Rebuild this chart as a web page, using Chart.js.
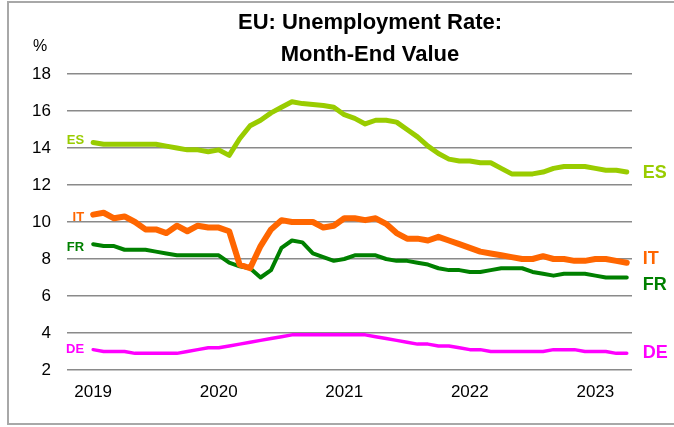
<!DOCTYPE html>
<html>
<head>
<meta charset="utf-8">
<script src="https://cdn.jsdelivr.net/npm/chart.js@4"></script>
<style>
  html,body{margin:0;padding:0;background:#fff;overflow:hidden}
  #wrap{position:relative;width:674px;height:427px}
  #frame{position:absolute;left:7px;top:1px;width:700px;height:424px;border:2px solid #a8a8a8;box-sizing:border-box}
  canvas{position:absolute;left:0;top:0}
</style>
</head>
<body>
<div id="wrap">
  <div id="frame"></div>
  <canvas id="chart" width="674" height="427"></canvas>
</div>
<script>
// monthly unemployment rate, Jan 2019 .. Apr 2023
const yearTicks=['2019','2020','2021','2022','2023']
const countries=['ES','IT','FR','DE']
const es=[14.3,14.2,14.2,14.2,14.2,14.2,14.2,14.1,14.0,13.9,13.9,13.8,13.9,13.6,14.5,15.2,15.5,15.9,
  16.2,16.5,16.4,16.35,16.3,16.2,15.8,15.6,15.3,15.5,15.5,15.4,15.0,14.6,14.1,13.7,13.4,
  13.3,13.3,13.2,13.2,12.9,12.6,12.6,12.6,12.7,12.9,13.0,13.0,13.0,12.9,12.8,12.8,12.7]
const it=[10.4,10.5,10.2,10.3,10.0,9.6,9.6,9.4,9.8,9.5,9.8,9.7,9.7,9.5,7.7,7.5,8.7,9.6,
  10.1,10.0,10.0,10.0,9.7,9.8,10.2,10.2,10.1,10.2,9.9,9.4,9.1,9.1,9.0,9.2,9.0,
  8.8,8.6,8.4,8.3,8.2,8.1,8.0,8.0,8.15,8.0,8.0,7.9,7.9,8.0,8.0,7.9,7.8]
const fr=[8.8,8.7,8.7,8.5,8.5,8.5,8.4,8.3,8.2,8.2,8.2,8.2,8.2,7.8,7.6,7.5,7.0,7.4,
  8.6,9.0,8.9,8.3,8.1,7.9,8.0,8.2,8.2,8.2,8.0,7.9,7.9,7.8,7.7,7.5,7.4,
  7.4,7.3,7.3,7.4,7.5,7.5,7.5,7.3,7.2,7.1,7.2,7.2,7.2,7.1,7.0,7.0,7.0]
const de=[3.1,3.0,3.0,3.0,2.9,2.9,2.9,2.9,2.9,3.0,3.1,3.2,3.2,3.3,3.4,3.5,3.6,3.7,
  3.8,3.9,3.9,3.9,3.9,3.9,3.9,3.9,3.9,3.8,3.7,3.6,3.5,3.4,3.4,3.3,3.3,
  3.2,3.1,3.1,3.0,3.0,3.0,3.0,3.0,3.0,3.1,3.1,3.1,3.0,3.0,3.0,2.9,2.9]

const font="'Liberation Sans', Arial, sans-serif"
const pts=arr=>arr.map((v,i)=>({x:i,y:v}))

// colour, width, draw order, label nudges (left, right)
const styles={
  ES:{color:'#99cc00',width:5,order:2,dyL:-2,dyR:1},
  IT:{color:'#ff6600',width:6,order:1,dyL:3,dyR:-4},
  FR:{color:'#008000',width:4,order:3,dyL:3,dyR:8},
  DE:{color:'#ff00ff',width:3.5,order:4,dyL:0,dyR:0}
}
const series={ES:es,IT:it,FR:fr,DE:de}

const headPlugin={
  id:'head',
  afterDraw(chart){
    const ctx=chart.ctx
    ctx.save()
    ctx.fillStyle='#000'
    ctx.textAlign='center';ctx.textBaseline='middle'
    ctx.font=`bold 22px ${font}`
    ctx.fillText('EU: Unemployment Rate:',370,23)
    ctx.fillText('Month-End Value',370,55)
    ctx.font=`16px ${font}`
    ctx.fillText('%',40,47)
    ctx.restore()
  }
}

const tagPlugin={
  id:'tags',
  afterDatasetsDraw(chart){
    const ctx=chart.ctx,xs=chart.scales.x,ys=chart.scales.y
    ctx.save()
    ctx.textBaseline='middle'
    chart.data.datasets.forEach(ds=>{
      const st=styles[ds.label],d=ds.data,first=d[0],last=d[d.length-1]
      ctx.fillStyle=st.color
      ctx.font=`bold 13px ${font}`
      ctx.textAlign='right'
      ctx.fillText(ds.label,xs.getPixelForValue(first.x)-9,ys.getPixelForValue(first.y)+st.dyL)
      ctx.font=`bold 18px ${font}`
      ctx.textAlign='left'
      ctx.fillText(ds.label,xs.getPixelForValue(last.x)+16,ys.getPixelForValue(last.y)+st.dyR)
    })
    ctx.restore()
  }
}

new Chart(document.getElementById('chart'),{
  type:'line',
  data:{datasets:countries.map(c=>({
    label:c,data:pts(series[c]),borderColor:styles[c].color,borderWidth:styles[c].width,
    order:styles[c].order,pointRadius:0,tension:0,borderCapStyle:'round',borderJoinStyle:'round',fill:false
  }))},
  options:{
    responsive:false,animation:false,
    layout:{padding:{top:74,right:42,left:0,bottom:0}},
    plugins:{legend:{display:false},title:{display:false},tooltip:{enabled:false}},
    scales:{
      x:{type:'linear',min:-2.5,max:51.5,
        grid:{display:false,drawTicks:false},border:{display:false},
        afterBuildTicks(s){s.ticks=yearTicks.map((y,i)=>({value:i*12}))},
        afterFit(s){s.height=57},
        ticks:{padding:12,color:'#000',font:{family:font,size:17},maxRotation:0,
          callback:(v)=>yearTicks[Math.round(v/12)]}},
      y:{min:2,max:18,
        grid:{color:'#8a8a8a',lineWidth:1.5,drawTicks:false},border:{display:false},
        afterFit(s){s.width=67},
        ticks:{stepSize:2,padding:16,color:'#000',font:{family:font,size:17}}}
    }
  },
  plugins:[headPlugin,tagPlugin]
})
</script>
</body>
</html>
